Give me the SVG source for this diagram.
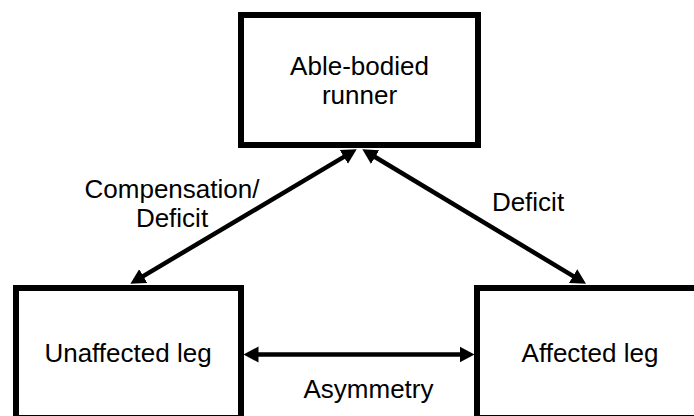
<svg xmlns="http://www.w3.org/2000/svg" width="694" height="416" viewBox="0 0 694 416">
  <defs>
    <style>
      .box { fill: #ffffff; stroke: #000000; stroke-width: 6; }
      .lbl { font-family: "Liberation Sans", Arial, sans-serif; font-size: 26px; fill: #000000; text-anchor: middle; }
      .conn { stroke: #000000; stroke-width: 4.5; fill: none; }
    </style>
    <marker id="head" markerUnits="userSpaceOnUse" markerWidth="18" markerHeight="18" viewBox="0 -9 18 18" refX="3" refY="0" orient="auto-start-reverse">
      <path d="M0,-8 L15,0 L0,8 Z" fill="#000000"/>
    </marker>
  </defs>
  <rect x="0" y="0" width="694" height="416" fill="#ffffff"/>
  <g id="able-bodied-runner">
    <rect class="box" x="241" y="15" width="237" height="130"/>
    <text class="lbl" x="359.5" y="75">Able-bodied</text>
    <text class="lbl" x="359.5" y="104">runner</text>
  </g>
  <g id="unaffected-leg">
    <rect class="box" x="16" y="288" width="225" height="130"/>
    <text class="lbl" x="128" y="362">Unaffected leg</text>
  </g>
  <g id="affected-leg">
    <rect class="box" x="477" y="288" width="225" height="130"/>
    <text class="lbl" x="590" y="362">Affected leg</text>
  </g>
  <g id="connectors">
    <path class="conn" d="M346.4,155.4 L140.7,277.6" marker-start="url(#head)" marker-end="url(#head)"/>
    <path class="conn" d="M372.6,155.5 L575.7,277.6" marker-start="url(#head)" marker-end="url(#head)"/>
    <path class="conn" d="M255.5,354.5 L462.5,354.5" marker-start="url(#head)" marker-end="url(#head)"/>
    <text class="lbl" x="172" y="198">Compensation/</text>
    <text class="lbl" x="172" y="227">Deficit</text>
    <text class="lbl" x="528" y="211">Deficit</text>
    <text class="lbl" x="368.5" y="398">Asymmetry</text>
  </g>
</svg>
